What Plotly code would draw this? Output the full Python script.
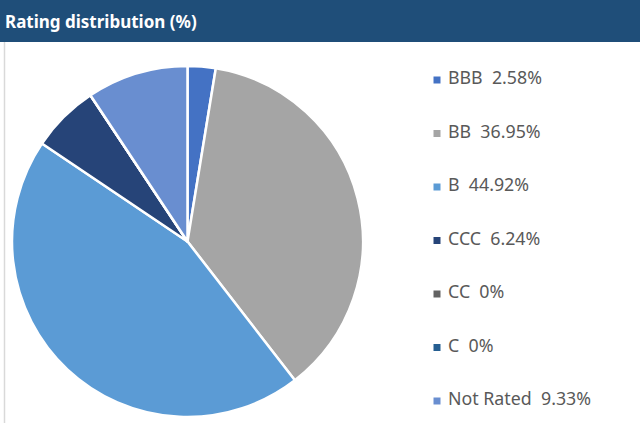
import plotly.graph_objects as go

labels = ["BBB", "BB", "B", "CCC", "CC", "C", "Not Rated"]
values = [2.58, 36.95, 44.92, 6.24, 0, 0, 9.33]
colors = ["#4472C4", "#A5A5A5", "#5B9BD5", "#264478", "#636363", "#255E91", "#698ED0"]
title_text = "Rating distribution (%)"

W, H = 640, 423
idx = list(range(len(labels)))
legend_text = [f"{l}\u00a0\u00a0{v:g}%" for l, v in zip(labels, values)]

fig = go.Figure()
fig.add_trace(go.Pie(
    labels=labels, values=values, sort=False, direction="clockwise", rotation=0,
    marker=dict(colors=colors, line=dict(color="white", width=2.5)),
    textinfo="none", showlegend=False, hoverinfo="label+value",
    domain=dict(x=[12 / W, 363 / W], y=[1 - 417 / H, 1 - 66 / H]),
))

# legend drawn as markers + text
step = 53.5
r_top = -80 / step
r_bot = r_top + H / step
fig.add_trace(go.Scatter(
    x=[437] * len(labels), y=idx, mode="markers",
    marker=dict(symbol="square", size=7, color=colors),
    showlegend=False, hoverinfo="skip", cliponaxis=False,
))
fig.add_trace(go.Scatter(
    x=[448] * len(labels), y=idx, mode="text", text=legend_text,
    textposition="middle right",
    textfont=dict(family="Noto Sans, sans-serif", size=17.8, color="#595959"),
    showlegend=False, hoverinfo="skip", cliponaxis=False,
))

fig.update_layout(
    width=W, height=H, margin=dict(l=0, r=0, t=0, b=0),
    paper_bgcolor="white", plot_bgcolor="rgba(0,0,0,0)",
    xaxis=dict(range=[0, W], visible=False, fixedrange=True),
    yaxis=dict(range=[r_bot, r_top], visible=False, fixedrange=True),
    shapes=[
        dict(type="rect", xref="paper", yref="paper", x0=0, x1=1, y0=1 - 42 / H, y1=1,
             fillcolor="#1F4E79", line=dict(width=0), layer="below"),
        dict(type="line", xref="paper", yref="paper", x0=4.5 / W, x1=4.5 / W, y0=0, y1=1 - 42 / H,
             line=dict(color="#D9D9D9", width=1.5), layer="below"),
    ],
    annotations=[dict(
        text=f"<b>{title_text}</b>", xref="paper", yref="paper", x=3 / W, y=1 - 22 / H,
        xanchor="left", yanchor="middle", showarrow=False,
        font=dict(family="Noto Sans, sans-serif", size=17, color="white"),
    )],
)

fig.write_html("out.html", config={"displayModeBar": False},
               post_script="document.body.style.margin='0';document.body.style.overflow='hidden';")
